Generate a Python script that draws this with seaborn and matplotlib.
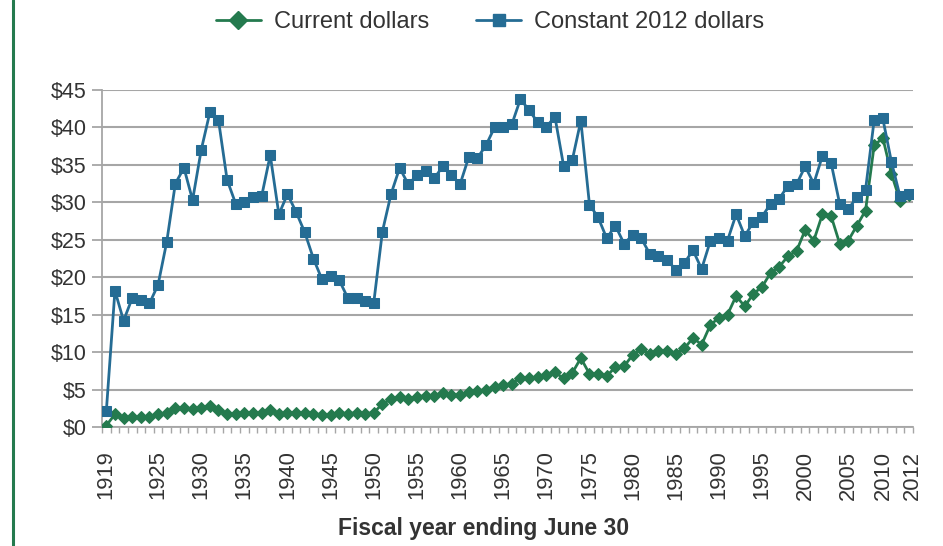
import numpy as np
import pandas as pd
import matplotlib
matplotlib.use("Agg")
import matplotlib.pyplot as plt
from matplotlib.lines import Line2D
from matplotlib.ticker import FixedLocator, FuncFormatter
from matplotlib.transforms import ScaledTranslation
import seaborn as sns

years = list(range(1919, 2013))

current_dollars = [
    0.2, 1.7, 1.2, 1.3, 1.3, 1.3, 1.7, 1.9, 2.5, 2.6, 2.4,            # 1919-1929
    2.6, 2.8, 2.3, 1.8, 1.7, 1.9, 1.9, 1.9, 2.3, 1.7,                 # 1930-1939
    1.9, 1.9, 1.9, 1.8, 1.6, 1.6, 1.9, 1.8, 1.9, 1.8,                 # 1940-1949
    1.9, 3.1, 3.7, 4.0, 3.8, 4.0, 4.2, 4.2, 4.5, 4.3,                 # 1950-1959
    4.3, 4.7, 4.8, 5.0, 5.4, 5.6, 5.8, 6.6, 6.5, 6.7,                 # 1960-1969
    7.0, 7.3, 6.5, 7.2, 9.2, 7.1, 7.1, 6.8, 8.0, 8.1,                 # 1970-1979
    9.6, 10.4, 9.7, 10.1, 10.2, 9.8, 10.5, 11.9, 11.0, 13.6,          # 1980-1989
    14.6, 15.0, 17.5, 16.1, 17.8, 18.7, 20.6, 21.4, 22.8, 23.5,       # 1990-1999
    26.3, 24.9, 28.4, 28.2, 24.5, 24.9, 26.9, 28.9, 37.6, 38.6,       # 2000-2009
    33.8, 30.2, 31.0,                                                 # 2010-2012
]

constant_2012_dollars = [
    2.1, 18.2, 14.2, 17.2, 16.9, 16.5, 19.0, 24.7, 32.5, 34.6, 30.3,  # 1919-1929
    37.0, 42.0, 41.0, 33.0, 29.8, 30.1, 30.7, 30.8, 36.3, 28.4,       # 1930-1939
    31.1, 28.7, 26.0, 22.5, 19.7, 20.1, 19.6, 17.2, 17.2, 16.8,       # 1940-1949
    16.6, 26.1, 31.1, 34.6, 32.4, 33.6, 34.2, 33.2, 34.8, 33.7,       # 1950-1959
    32.4, 36.0, 35.9, 37.6, 40.0, 40.0, 40.4, 43.8, 42.3, 40.7,       # 1960-1969
    40.1, 41.4, 34.9, 35.6, 40.9, 29.7, 28.0, 25.2, 26.9, 24.5,       # 1970-1979
    25.6, 25.2, 23.1, 22.8, 22.3, 21.0, 21.9, 23.6, 21.1, 24.8,       # 1980-1989
    25.2, 24.9, 28.4, 25.5, 27.4, 28.1, 29.8, 30.5, 32.2, 32.4,       # 1990-1999
    34.8, 32.5, 36.2, 35.3, 29.8, 29.1, 30.7, 31.7, 41.0, 41.2,       # 2000-2009
    35.4, 30.8, 31.1,                                                 # 2010-2012
]

year_ticks = [1919, 1925, 1930, 1935, 1940, 1945, 1950, 1955, 1960, 1965,
              1970, 1975, 1980, 1985, 1990, 1995, 2000, 2005, 2010, 2012]
y_ticks = [0, 5, 10, 15, 20, 25, 30, 35, 40, 45]

series_names = ["Current dollars", "Constant 2012 dollars"]

GREEN = "#247a4e"
BLUE = "#256c94"
GRID = "#a6a6a6"
TEXT = "#333333"

sns.set_theme(style="white")
plt.rcParams["font.family"] = ["Liberation Sans", "DejaVu Sans"]

fig = plt.figure(figsize=(9.43, 5.46), dpi=100)
ax = fig.add_axes([102 / 943, 1 - 427 / 546, (913 - 102) / 943, (427 - 90) / 546])

df = pd.DataFrame({"year": years, series_names[0]: current_dollars,
                   series_names[1]: constant_2012_dollars})

sns.lineplot(data=df, x="year", y=series_names[0], ax=ax, color=GREEN,
             marker="D", markersize=6.5, markeredgecolor=GREEN, linewidth=2,
             label=series_names[0], legend=False, zorder=3)
sns.lineplot(data=df, x="year", y=series_names[1], ax=ax, color=BLUE,
             marker="s", markersize=7, markeredgecolor=BLUE, linewidth=2,
             label=series_names[1], legend=False, zorder=4)

ax.set_xlim(1918.5, 2012.5)
ax.set_ylim(0, 45)

ax.yaxis.set_major_locator(FixedLocator(y_ticks))
ax.yaxis.set_major_formatter(FuncFormatter(lambda v, p: f"${int(v)}"))
ax.xaxis.set_major_locator(FixedLocator(year_ticks))
ax.xaxis.set_major_formatter(FuncFormatter(lambda v, p: f"{int(v)}"))
ax.xaxis.set_minor_locator(FixedLocator([y + 0.5 for y in years[:-1]] + [1918.5, 2012.5]))

ax.grid(axis="y", color=GRID, linewidth=1.5, zorder=0)
ax.grid(axis="x", visible=False)
for s in ["top", "right"]:
    ax.spines[s].set_visible(False)
for s in ["left", "bottom"]:
    ax.spines[s].set_color(GRID)
    ax.spines[s].set_linewidth(1.3)

ax.tick_params(axis="y", which="major", left=True, length=7, width=1.3, color=GRID,
               labelsize=15.5, labelcolor=TEXT, pad=4)
ax.tick_params(axis="x", which="major", bottom=False, length=0, labelsize=15.8,
               labelcolor=TEXT, pad=17, labelrotation=90)
ax.tick_params(axis="x", which="minor", bottom=True, length=4, width=1, color=GRID)

ax.set_xlabel("Fiscal year ending June 30", fontsize=16.5, fontweight="bold",
              color=TEXT, va="center")
ax.xaxis.set_label_coords((484 - 102) / 811, -(529 - 427) / 337)
ax.set_ylabel("")

handles = [
    Line2D([], [], color=GREEN, marker="D", markersize=9, linewidth=2),
    Line2D([], [], color=BLUE, marker="s", markersize=9, linewidth=2),
]
fig.legend(handles, series_names, loc="center", bbox_to_anchor=(490 / 943, 1 - 22 / 546),
           ncol=2, frameon=False, fontsize=17, handlelength=1.9, columnspacing=2.0,
           handletextpad=0.55, labelcolor=TEXT)

fig.add_artist(Line2D([13 / 943, 13 / 943], [0, 1], color=GREEN, linewidth=2.2,
                      transform=fig.transFigure))

# nudge the two crowded last labels apart, as in the reference
fig.canvas.draw()
for lab in ax.get_xticklabels():
    if lab.get_text() == "2010":
        lab.set_transform(lab.get_transform() + ScaledTranslation(-5.5 / 72, 0, fig.dpi_scale_trans))
    elif lab.get_text() == "2012":
        lab.set_transform(lab.get_transform() + ScaledTranslation(2.5 / 72, 0, fig.dpi_scale_trans))

fig.savefig("out.png", dpi=100, facecolor="white")
